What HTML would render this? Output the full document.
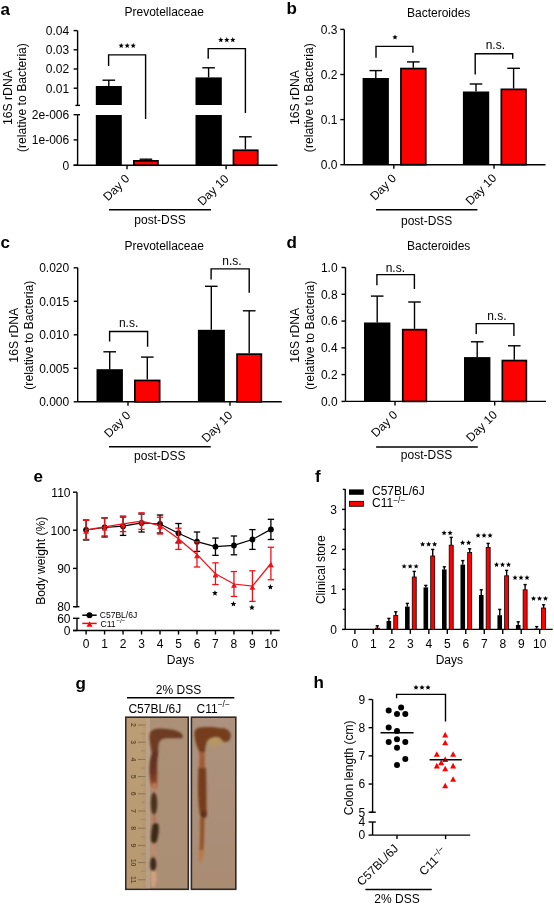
<!DOCTYPE html>
<html><head><meta charset="utf-8"><style>
html,body{margin:0;padding:0;background:#fff;}
svg{display:block;font-family:"Liberation Sans",sans-serif;will-change:transform;}
</style></head><body>
<svg width="554" height="906" viewBox="0 0 554 906">
<rect x="0" y="0" width="554" height="906" fill="#fff"/>
<text x="0.50" y="15.20" font-size="17" text-anchor="start" font-weight="bold" fill="#000">a</text>
<text x="164.20" y="16.40" font-size="12" text-anchor="middle" fill="#000">Prevotellaceae</text>
<line x1="77.60" y1="30.60" x2="77.60" y2="105.40" stroke="#000" stroke-width="1.4"/>
<line x1="75.40" y1="105.40" x2="80.00" y2="105.40" stroke="#000" stroke-width="1.4"/>
<line x1="73.60" y1="30.60" x2="77.60" y2="30.60" stroke="#000" stroke-width="1.4"/>
<text x="69.20" y="34.90" font-size="12" text-anchor="end" fill="#000">0.04</text>
<line x1="73.60" y1="49.80" x2="77.60" y2="49.80" stroke="#000" stroke-width="1.4"/>
<text x="69.20" y="54.10" font-size="12" text-anchor="end" fill="#000">0.03</text>
<line x1="73.60" y1="69.00" x2="77.60" y2="69.00" stroke="#000" stroke-width="1.4"/>
<text x="69.20" y="73.30" font-size="12" text-anchor="end" fill="#000">0.02</text>
<line x1="73.60" y1="88.20" x2="77.60" y2="88.20" stroke="#000" stroke-width="1.4"/>
<text x="69.20" y="92.50" font-size="12" text-anchor="end" fill="#000">0.01</text>
<line x1="77.60" y1="114.70" x2="77.60" y2="165.20" stroke="#000" stroke-width="1.4"/>
<line x1="77.60" y1="114.70" x2="80.00" y2="114.70" stroke="#000" stroke-width="1.4"/>
<line x1="73.60" y1="114.70" x2="77.60" y2="114.70" stroke="#000" stroke-width="1.4"/>
<text x="69.20" y="119.00" font-size="12" text-anchor="end" fill="#000">2e-006</text>
<line x1="73.60" y1="139.90" x2="77.60" y2="139.90" stroke="#000" stroke-width="1.4"/>
<text x="69.20" y="144.20" font-size="12" text-anchor="end" fill="#000">1e-006</text>
<line x1="73.60" y1="165.20" x2="77.60" y2="165.20" stroke="#000" stroke-width="1.4"/>
<text x="69.20" y="169.50" font-size="12" text-anchor="end" fill="#000">0</text>
<line x1="73.60" y1="165.20" x2="277.50" y2="165.20" stroke="#000" stroke-width="1.4"/>
<text x="11.60" y="97.60" font-size="12.2" text-anchor="middle" transform="rotate(-90 11.60 97.60)" fill="#000">16S rDNA</text>
<text x="25.80" y="97.60" font-size="12.2" text-anchor="middle" transform="rotate(-90 25.80 97.60)" fill="#000">(relative to Bacteria)</text>
<rect x="95.80" y="86.00" width="26.00" height="19.00" fill="#000"/>
<rect x="95.80" y="115.00" width="26.00" height="50.20" fill="#000"/>
<line x1="108.80" y1="80.20" x2="108.80" y2="86.00" stroke="#000" stroke-width="1.4"/>
<line x1="102.50" y1="80.20" x2="115.10" y2="80.20" stroke="#000" stroke-width="1.4"/>
<rect x="133.85" y="160.85" width="24.10" height="4.35" fill="#ff0000" stroke="#000" stroke-width="1.7"/>
<line x1="145.90" y1="159.20" x2="145.90" y2="160.50" stroke="#000" stroke-width="1.4"/>
<line x1="139.60" y1="159.20" x2="152.20" y2="159.20" stroke="#000" stroke-width="1.4"/>
<rect x="195.50" y="77.40" width="26.30" height="27.60" fill="#000"/>
<rect x="195.50" y="115.00" width="26.30" height="50.20" fill="#000"/>
<line x1="208.60" y1="67.80" x2="208.60" y2="77.40" stroke="#000" stroke-width="1.4"/>
<line x1="202.30" y1="67.80" x2="214.90" y2="67.80" stroke="#000" stroke-width="1.4"/>
<rect x="233.45" y="150.25" width="24.30" height="14.95" fill="#ff0000" stroke="#000" stroke-width="1.7"/>
<line x1="245.40" y1="136.80" x2="245.40" y2="149.40" stroke="#000" stroke-width="1.4"/>
<line x1="239.10" y1="136.80" x2="251.70" y2="136.80" stroke="#000" stroke-width="1.4"/>
<polyline points="108.60,65.90 108.60,54.90 145.60,54.90 145.60,118.90" fill="none" stroke="#000" stroke-width="1.4" stroke-linejoin="miter" stroke-linecap="butt"/>
<polygon points="121.20,42.90 121.94,44.68 123.86,44.83 122.40,46.09 122.85,47.97 121.20,46.96 119.55,47.97 120.00,46.09 118.54,44.83 120.46,44.68" fill="#000"/>
<polygon points="127.20,42.90 127.94,44.68 129.86,44.83 128.40,46.09 128.85,47.97 127.20,46.96 125.55,47.97 126.00,46.09 124.54,44.83 126.46,44.68" fill="#000"/>
<polygon points="133.20,42.90 133.94,44.68 135.86,44.83 134.40,46.09 134.85,47.97 133.20,46.96 131.55,47.97 132.00,46.09 130.54,44.83 132.46,44.68" fill="#000"/>
<polyline points="208.20,58.80 208.20,48.60 245.40,48.60 245.40,113.00" fill="none" stroke="#000" stroke-width="1.4" stroke-linejoin="miter" stroke-linecap="butt"/>
<polygon points="220.80,37.10 221.54,38.88 223.46,39.03 222.00,40.29 222.45,42.17 220.80,41.16 219.15,42.17 219.60,40.29 218.14,39.03 220.06,38.88" fill="#000"/>
<polygon points="226.80,37.10 227.54,38.88 229.46,39.03 228.00,40.29 228.45,42.17 226.80,41.16 225.15,42.17 225.60,40.29 224.14,39.03 226.06,38.88" fill="#000"/>
<polygon points="232.80,37.10 233.54,38.88 235.46,39.03 234.00,40.29 234.45,42.17 232.80,41.16 231.15,42.17 231.60,40.29 230.14,39.03 232.06,38.88" fill="#000"/>
<line x1="127.00" y1="165.20" x2="127.00" y2="169.20" stroke="#000" stroke-width="1.4"/>
<line x1="226.10" y1="165.20" x2="226.10" y2="169.20" stroke="#000" stroke-width="1.4"/>
<text x="130.30" y="179.40" font-size="12" text-anchor="end" transform="rotate(-45 130.30 179.40)" fill="#000">Day 0</text>
<text x="229.40" y="179.40" font-size="12" text-anchor="end" transform="rotate(-45 229.40 179.40)" fill="#000">Day 10</text>
<line x1="109.00" y1="209.80" x2="211.00" y2="209.80" stroke="#000" stroke-width="1.4"/>
<text x="160.00" y="224.20" font-size="12" text-anchor="middle" fill="#000">post-DSS</text>
<text x="286.60" y="14.40" font-size="17" text-anchor="start" font-weight="bold" fill="#000">b</text>
<text x="438.70" y="16.70" font-size="12" text-anchor="middle" fill="#000">Bacteroides</text>
<line x1="344.30" y1="29.40" x2="344.30" y2="164.70" stroke="#000" stroke-width="1.4"/>
<line x1="340.30" y1="29.40" x2="344.30" y2="29.40" stroke="#000" stroke-width="1.4"/>
<text x="337.50" y="33.70" font-size="12" text-anchor="end" fill="#000">0.3</text>
<line x1="340.30" y1="74.50" x2="344.30" y2="74.50" stroke="#000" stroke-width="1.4"/>
<text x="337.50" y="78.80" font-size="12" text-anchor="end" fill="#000">0.2</text>
<line x1="340.30" y1="119.60" x2="344.30" y2="119.60" stroke="#000" stroke-width="1.4"/>
<text x="337.50" y="123.90" font-size="12" text-anchor="end" fill="#000">0.1</text>
<line x1="340.30" y1="164.70" x2="344.30" y2="164.70" stroke="#000" stroke-width="1.4"/>
<text x="337.50" y="169.00" font-size="12" text-anchor="end" fill="#000">0.0</text>
<line x1="344.30" y1="164.70" x2="545.50" y2="164.70" stroke="#000" stroke-width="1.4"/>
<text x="298.90" y="97.60" font-size="12.2" text-anchor="middle" transform="rotate(-90 298.90 97.60)" fill="#000">16S rDNA</text>
<text x="313.40" y="97.60" font-size="12.2" text-anchor="middle" transform="rotate(-90 313.40 97.60)" fill="#000">(relative to Bacteria)</text>
<rect x="362.60" y="78.00" width="26.30" height="86.70" fill="#000"/>
<line x1="375.80" y1="70.60" x2="375.80" y2="78.00" stroke="#000" stroke-width="1.4"/>
<line x1="369.50" y1="70.60" x2="382.10" y2="70.60" stroke="#000" stroke-width="1.4"/>
<rect x="400.95" y="68.55" width="24.80" height="96.15" fill="#ff0000" stroke="#000" stroke-width="1.7"/>
<line x1="413.30" y1="61.90" x2="413.30" y2="67.70" stroke="#000" stroke-width="1.4"/>
<line x1="407.00" y1="61.90" x2="419.60" y2="61.90" stroke="#000" stroke-width="1.4"/>
<rect x="462.90" y="91.50" width="26.30" height="73.20" fill="#000"/>
<line x1="476.00" y1="84.00" x2="476.00" y2="91.50" stroke="#000" stroke-width="1.4"/>
<line x1="469.70" y1="84.00" x2="482.30" y2="84.00" stroke="#000" stroke-width="1.4"/>
<rect x="501.35" y="89.35" width="24.60" height="75.35" fill="#ff0000" stroke="#000" stroke-width="1.7"/>
<line x1="513.60" y1="68.30" x2="513.60" y2="88.50" stroke="#000" stroke-width="1.4"/>
<line x1="507.30" y1="68.30" x2="519.90" y2="68.30" stroke="#000" stroke-width="1.4"/>
<polyline points="376.00,57.70 376.00,46.40 412.90,46.40 412.90,52.80" fill="none" stroke="#000" stroke-width="1.4" stroke-linejoin="miter" stroke-linecap="butt"/>
<polygon points="395.00,34.50 395.74,36.28 397.66,36.43 396.20,37.69 396.65,39.57 395.00,38.56 393.35,39.57 393.80,37.69 392.34,36.43 394.26,36.28" fill="#000"/>
<polyline points="475.20,74.60 475.20,53.80 512.70,53.80 512.70,58.70" fill="none" stroke="#000" stroke-width="1.4" stroke-linejoin="miter" stroke-linecap="butt"/>
<text x="495.30" y="48.80" font-size="12" text-anchor="middle" fill="#000">n.s.</text>
<line x1="393.80" y1="164.70" x2="393.80" y2="168.70" stroke="#000" stroke-width="1.4"/>
<line x1="494.00" y1="164.70" x2="494.00" y2="168.70" stroke="#000" stroke-width="1.4"/>
<text x="397.10" y="178.90" font-size="12" text-anchor="end" transform="rotate(-45 397.10 178.90)" fill="#000">Day 0</text>
<text x="497.30" y="178.90" font-size="12" text-anchor="end" transform="rotate(-45 497.30 178.90)" fill="#000">Day 10</text>
<line x1="376.00" y1="209.80" x2="477.40" y2="209.80" stroke="#000" stroke-width="1.4"/>
<text x="426.70" y="224.60" font-size="12" text-anchor="middle" fill="#000">post-DSS</text>
<text x="0.50" y="248.20" font-size="17" text-anchor="start" font-weight="bold" fill="#000">c</text>
<text x="164.20" y="249.90" font-size="12" text-anchor="middle" fill="#000">Prevotellaceae</text>
<line x1="77.70" y1="267.80" x2="77.70" y2="401.80" stroke="#000" stroke-width="1.4"/>
<line x1="73.70" y1="267.80" x2="77.70" y2="267.80" stroke="#000" stroke-width="1.4"/>
<text x="69.20" y="272.10" font-size="12" text-anchor="end" fill="#000">0.020</text>
<line x1="73.70" y1="301.30" x2="77.70" y2="301.30" stroke="#000" stroke-width="1.4"/>
<text x="69.20" y="305.60" font-size="12" text-anchor="end" fill="#000">0.015</text>
<line x1="73.70" y1="334.80" x2="77.70" y2="334.80" stroke="#000" stroke-width="1.4"/>
<text x="69.20" y="339.10" font-size="12" text-anchor="end" fill="#000">0.010</text>
<line x1="73.70" y1="368.30" x2="77.70" y2="368.30" stroke="#000" stroke-width="1.4"/>
<text x="69.20" y="372.60" font-size="12" text-anchor="end" fill="#000">0.005</text>
<line x1="73.70" y1="401.80" x2="77.70" y2="401.80" stroke="#000" stroke-width="1.4"/>
<text x="69.20" y="406.10" font-size="12" text-anchor="end" fill="#000">0.000</text>
<line x1="77.70" y1="401.80" x2="281.80" y2="401.80" stroke="#000" stroke-width="1.4"/>
<text x="18.20" y="335.20" font-size="12.2" text-anchor="middle" transform="rotate(-90 18.20 335.20)" fill="#000">16S rDNA</text>
<text x="32.70" y="335.20" font-size="12.2" text-anchor="middle" transform="rotate(-90 32.70 335.20)" fill="#000">(relative to Bacteria)</text>
<rect x="96.50" y="369.20" width="26.40" height="32.60" fill="#000"/>
<line x1="109.70" y1="351.80" x2="109.70" y2="369.20" stroke="#000" stroke-width="1.4"/>
<line x1="103.40" y1="351.80" x2="116.00" y2="351.80" stroke="#000" stroke-width="1.4"/>
<rect x="134.85" y="380.45" width="24.80" height="21.35" fill="#ff0000" stroke="#000" stroke-width="1.7"/>
<line x1="147.30" y1="357.10" x2="147.30" y2="379.60" stroke="#000" stroke-width="1.4"/>
<line x1="141.00" y1="357.10" x2="153.60" y2="357.10" stroke="#000" stroke-width="1.4"/>
<rect x="197.90" y="329.80" width="27.00" height="72.00" fill="#000"/>
<line x1="211.30" y1="286.30" x2="211.30" y2="329.80" stroke="#000" stroke-width="1.4"/>
<line x1="205.00" y1="286.30" x2="217.60" y2="286.30" stroke="#000" stroke-width="1.4"/>
<rect x="237.05" y="354.15" width="24.30" height="47.65" fill="#ff0000" stroke="#000" stroke-width="1.7"/>
<line x1="249.20" y1="310.80" x2="249.20" y2="353.30" stroke="#000" stroke-width="1.4"/>
<line x1="242.90" y1="310.80" x2="255.50" y2="310.80" stroke="#000" stroke-width="1.4"/>
<polyline points="109.60,341.40 109.60,331.50 147.60,331.50 147.60,346.80" fill="none" stroke="#000" stroke-width="1.4" stroke-linejoin="miter" stroke-linecap="butt"/>
<text x="128.60" y="327.00" font-size="12" text-anchor="middle" fill="#000">n.s.</text>
<polyline points="211.10,279.40 211.10,268.90 249.20,268.90 249.20,292.70" fill="none" stroke="#000" stroke-width="1.4" stroke-linejoin="miter" stroke-linecap="butt"/>
<text x="232.00" y="264.90" font-size="12" text-anchor="middle" fill="#000">n.s.</text>
<line x1="128.00" y1="401.80" x2="128.00" y2="405.80" stroke="#000" stroke-width="1.4"/>
<line x1="230.00" y1="401.80" x2="230.00" y2="405.80" stroke="#000" stroke-width="1.4"/>
<text x="131.30" y="416.00" font-size="12" text-anchor="end" transform="rotate(-45 131.30 416.00)" fill="#000">Day 0</text>
<text x="233.30" y="416.00" font-size="12" text-anchor="end" transform="rotate(-45 233.30 416.00)" fill="#000">Day 10</text>
<line x1="109.00" y1="446.80" x2="210.70" y2="446.80" stroke="#000" stroke-width="1.4"/>
<text x="159.80" y="459.60" font-size="12" text-anchor="middle" fill="#000">post-DSS</text>
<text x="286.60" y="248.00" font-size="17" text-anchor="start" font-weight="bold" fill="#000">d</text>
<text x="438.70" y="249.90" font-size="12" text-anchor="middle" fill="#000">Bacteroides</text>
<line x1="345.50" y1="267.50" x2="345.50" y2="401.40" stroke="#000" stroke-width="1.4"/>
<line x1="341.50" y1="267.50" x2="345.50" y2="267.50" stroke="#000" stroke-width="1.4"/>
<text x="337.60" y="271.80" font-size="12" text-anchor="end" fill="#000">1.0</text>
<line x1="341.50" y1="294.28" x2="345.50" y2="294.28" stroke="#000" stroke-width="1.4"/>
<text x="337.60" y="298.58" font-size="12" text-anchor="end" fill="#000">0.8</text>
<line x1="341.50" y1="321.06" x2="345.50" y2="321.06" stroke="#000" stroke-width="1.4"/>
<text x="337.60" y="325.36" font-size="12" text-anchor="end" fill="#000">0.6</text>
<line x1="341.50" y1="347.84" x2="345.50" y2="347.84" stroke="#000" stroke-width="1.4"/>
<text x="337.60" y="352.14" font-size="12" text-anchor="end" fill="#000">0.4</text>
<line x1="341.50" y1="374.62" x2="345.50" y2="374.62" stroke="#000" stroke-width="1.4"/>
<text x="337.60" y="378.92" font-size="12" text-anchor="end" fill="#000">0.2</text>
<line x1="341.50" y1="401.40" x2="345.50" y2="401.40" stroke="#000" stroke-width="1.4"/>
<text x="337.60" y="405.70" font-size="12" text-anchor="end" fill="#000">0.0</text>
<line x1="345.50" y1="401.40" x2="546.00" y2="401.40" stroke="#000" stroke-width="1.4"/>
<text x="299.10" y="335.20" font-size="12.2" text-anchor="middle" transform="rotate(-90 299.10 335.20)" fill="#000">16S rDNA</text>
<text x="314.20" y="335.20" font-size="12.2" text-anchor="middle" transform="rotate(-90 314.20 335.20)" fill="#000">(relative to Bacteria)</text>
<rect x="364.00" y="322.50" width="26.40" height="78.90" fill="#000"/>
<line x1="377.20" y1="296.10" x2="377.20" y2="322.50" stroke="#000" stroke-width="1.4"/>
<line x1="370.90" y1="296.10" x2="383.50" y2="296.10" stroke="#000" stroke-width="1.4"/>
<rect x="402.75" y="329.65" width="23.60" height="71.75" fill="#ff0000" stroke="#000" stroke-width="1.7"/>
<line x1="414.50" y1="302.00" x2="414.50" y2="328.80" stroke="#000" stroke-width="1.4"/>
<line x1="408.20" y1="302.00" x2="420.80" y2="302.00" stroke="#000" stroke-width="1.4"/>
<rect x="464.00" y="357.10" width="26.40" height="44.30" fill="#000"/>
<line x1="477.20" y1="341.80" x2="477.20" y2="357.10" stroke="#000" stroke-width="1.4"/>
<line x1="470.90" y1="341.80" x2="483.50" y2="341.80" stroke="#000" stroke-width="1.4"/>
<rect x="502.35" y="360.55" width="24.00" height="40.85" fill="#ff0000" stroke="#000" stroke-width="1.7"/>
<line x1="514.30" y1="345.80" x2="514.30" y2="359.70" stroke="#000" stroke-width="1.4"/>
<line x1="508.00" y1="345.80" x2="520.60" y2="345.80" stroke="#000" stroke-width="1.4"/>
<polyline points="376.90,285.30 376.90,274.60 414.40,274.60 414.40,289.10" fill="none" stroke="#000" stroke-width="1.4" stroke-linejoin="miter" stroke-linecap="butt"/>
<text x="395.30" y="271.80" font-size="12" text-anchor="middle" fill="#000">n.s.</text>
<polyline points="476.20,333.90 476.20,323.60 513.90,323.60 513.90,335.90" fill="none" stroke="#000" stroke-width="1.4" stroke-linejoin="miter" stroke-linecap="butt"/>
<text x="496.80" y="319.90" font-size="12" text-anchor="middle" fill="#000">n.s.</text>
<line x1="395.00" y1="401.40" x2="395.00" y2="405.40" stroke="#000" stroke-width="1.4"/>
<line x1="494.70" y1="401.40" x2="494.70" y2="405.40" stroke="#000" stroke-width="1.4"/>
<text x="398.30" y="415.60" font-size="12" text-anchor="end" transform="rotate(-45 398.30 415.60)" fill="#000">Day 0</text>
<text x="498.00" y="415.60" font-size="12" text-anchor="end" transform="rotate(-45 498.00 415.60)" fill="#000">Day 10</text>
<line x1="376.10" y1="447.00" x2="477.80" y2="447.00" stroke="#000" stroke-width="1.4"/>
<text x="426.50" y="459.40" font-size="12" text-anchor="middle" fill="#000">post-DSS</text>
<text x="33.50" y="481.80" font-size="17" text-anchor="start" font-weight="bold" fill="#000">e</text>
<line x1="77.00" y1="492.20" x2="77.00" y2="606.70" stroke="#000" stroke-width="1.4"/>
<line x1="74.80" y1="606.70" x2="79.40" y2="606.70" stroke="#000" stroke-width="1.4"/>
<line x1="73.00" y1="492.20" x2="77.00" y2="492.20" stroke="#000" stroke-width="1.4"/>
<text x="70.50" y="496.50" font-size="12" text-anchor="end" fill="#000">110</text>
<line x1="73.00" y1="530.20" x2="77.00" y2="530.20" stroke="#000" stroke-width="1.4"/>
<text x="70.50" y="534.50" font-size="12" text-anchor="end" fill="#000">100</text>
<line x1="73.00" y1="568.40" x2="77.00" y2="568.40" stroke="#000" stroke-width="1.4"/>
<text x="70.50" y="572.70" font-size="12" text-anchor="end" fill="#000">90</text>
<line x1="73.00" y1="606.70" x2="77.00" y2="606.70" stroke="#000" stroke-width="1.4"/>
<text x="70.50" y="611.00" font-size="12" text-anchor="end" fill="#000">80</text>
<line x1="77.00" y1="618.30" x2="77.00" y2="630.50" stroke="#000" stroke-width="1.4"/>
<line x1="77.00" y1="618.30" x2="79.40" y2="618.30" stroke="#000" stroke-width="1.4"/>
<line x1="73.00" y1="618.30" x2="77.00" y2="618.30" stroke="#000" stroke-width="1.4"/>
<text x="70.50" y="622.60" font-size="12" text-anchor="end" fill="#000">60</text>
<line x1="73.00" y1="630.50" x2="77.00" y2="630.50" stroke="#000" stroke-width="1.4"/>
<text x="70.50" y="634.80" font-size="12" text-anchor="end" fill="#000">0</text>
<line x1="73.00" y1="630.50" x2="279.70" y2="630.50" stroke="#000" stroke-width="1.4"/>
<text x="44.80" y="560.80" font-size="12.1" text-anchor="middle" transform="rotate(-90 44.80 560.80)" fill="#000">Body weight (%)</text>
<line x1="86.10" y1="630.50" x2="86.10" y2="634.50" stroke="#000" stroke-width="1.4"/>
<text x="86.10" y="648.20" font-size="12" text-anchor="middle" fill="#000">0</text>
<line x1="104.58" y1="630.50" x2="104.58" y2="634.50" stroke="#000" stroke-width="1.4"/>
<text x="104.58" y="648.20" font-size="12" text-anchor="middle" fill="#000">1</text>
<line x1="123.06" y1="630.50" x2="123.06" y2="634.50" stroke="#000" stroke-width="1.4"/>
<text x="123.06" y="648.20" font-size="12" text-anchor="middle" fill="#000">2</text>
<line x1="141.54" y1="630.50" x2="141.54" y2="634.50" stroke="#000" stroke-width="1.4"/>
<text x="141.54" y="648.20" font-size="12" text-anchor="middle" fill="#000">3</text>
<line x1="160.02" y1="630.50" x2="160.02" y2="634.50" stroke="#000" stroke-width="1.4"/>
<text x="160.02" y="648.20" font-size="12" text-anchor="middle" fill="#000">4</text>
<line x1="178.50" y1="630.50" x2="178.50" y2="634.50" stroke="#000" stroke-width="1.4"/>
<text x="178.50" y="648.20" font-size="12" text-anchor="middle" fill="#000">5</text>
<line x1="196.98" y1="630.50" x2="196.98" y2="634.50" stroke="#000" stroke-width="1.4"/>
<text x="196.98" y="648.20" font-size="12" text-anchor="middle" fill="#000">6</text>
<line x1="215.46" y1="630.50" x2="215.46" y2="634.50" stroke="#000" stroke-width="1.4"/>
<text x="215.46" y="648.20" font-size="12" text-anchor="middle" fill="#000">7</text>
<line x1="233.94" y1="630.50" x2="233.94" y2="634.50" stroke="#000" stroke-width="1.4"/>
<text x="233.94" y="648.20" font-size="12" text-anchor="middle" fill="#000">8</text>
<line x1="252.42" y1="630.50" x2="252.42" y2="634.50" stroke="#000" stroke-width="1.4"/>
<text x="252.42" y="648.20" font-size="12" text-anchor="middle" fill="#000">9</text>
<line x1="270.90" y1="630.50" x2="270.90" y2="634.50" stroke="#000" stroke-width="1.4"/>
<text x="270.90" y="648.20" font-size="12" text-anchor="middle" fill="#000">10</text>
<text x="180.50" y="663.50" font-size="12" text-anchor="middle" fill="#000">Days</text>
<line x1="86.10" y1="520.00" x2="86.10" y2="540.00" stroke="#000" stroke-width="1.3"/>
<line x1="82.90" y1="520.00" x2="89.30" y2="520.00" stroke="#000" stroke-width="1.3"/>
<line x1="82.90" y1="540.00" x2="89.30" y2="540.00" stroke="#000" stroke-width="1.3"/>
<line x1="104.58" y1="518.00" x2="104.58" y2="537.00" stroke="#000" stroke-width="1.3"/>
<line x1="101.38" y1="518.00" x2="107.78" y2="518.00" stroke="#000" stroke-width="1.3"/>
<line x1="101.38" y1="537.00" x2="107.78" y2="537.00" stroke="#000" stroke-width="1.3"/>
<line x1="123.06" y1="517.00" x2="123.06" y2="535.40" stroke="#000" stroke-width="1.3"/>
<line x1="119.86" y1="517.00" x2="126.26" y2="517.00" stroke="#000" stroke-width="1.3"/>
<line x1="119.86" y1="535.40" x2="126.26" y2="535.40" stroke="#000" stroke-width="1.3"/>
<line x1="141.54" y1="514.00" x2="141.54" y2="532.00" stroke="#000" stroke-width="1.3"/>
<line x1="138.34" y1="514.00" x2="144.74" y2="514.00" stroke="#000" stroke-width="1.3"/>
<line x1="138.34" y1="532.00" x2="144.74" y2="532.00" stroke="#000" stroke-width="1.3"/>
<line x1="160.02" y1="515.00" x2="160.02" y2="533.00" stroke="#000" stroke-width="1.3"/>
<line x1="156.82" y1="515.00" x2="163.22" y2="515.00" stroke="#000" stroke-width="1.3"/>
<line x1="156.82" y1="533.00" x2="163.22" y2="533.00" stroke="#000" stroke-width="1.3"/>
<line x1="178.50" y1="523.50" x2="178.50" y2="542.90" stroke="#000" stroke-width="1.3"/>
<line x1="175.30" y1="523.50" x2="181.70" y2="523.50" stroke="#000" stroke-width="1.3"/>
<line x1="175.30" y1="542.90" x2="181.70" y2="542.90" stroke="#000" stroke-width="1.3"/>
<line x1="196.98" y1="532.00" x2="196.98" y2="551.40" stroke="#000" stroke-width="1.3"/>
<line x1="193.78" y1="532.00" x2="200.18" y2="532.00" stroke="#000" stroke-width="1.3"/>
<line x1="193.78" y1="551.40" x2="200.18" y2="551.40" stroke="#000" stroke-width="1.3"/>
<line x1="215.46" y1="538.05" x2="215.46" y2="555.35" stroke="#000" stroke-width="1.3"/>
<line x1="212.26" y1="538.05" x2="218.66" y2="538.05" stroke="#000" stroke-width="1.3"/>
<line x1="212.26" y1="555.35" x2="218.66" y2="555.35" stroke="#000" stroke-width="1.3"/>
<line x1="233.94" y1="536.00" x2="233.94" y2="554.80" stroke="#000" stroke-width="1.3"/>
<line x1="230.74" y1="536.00" x2="237.14" y2="536.00" stroke="#000" stroke-width="1.3"/>
<line x1="230.74" y1="554.80" x2="237.14" y2="554.80" stroke="#000" stroke-width="1.3"/>
<line x1="252.42" y1="529.60" x2="252.42" y2="549.40" stroke="#000" stroke-width="1.3"/>
<line x1="249.22" y1="529.60" x2="255.62" y2="529.60" stroke="#000" stroke-width="1.3"/>
<line x1="249.22" y1="549.40" x2="255.62" y2="549.40" stroke="#000" stroke-width="1.3"/>
<line x1="270.90" y1="519.30" x2="270.90" y2="539.50" stroke="#000" stroke-width="1.3"/>
<line x1="267.70" y1="519.30" x2="274.10" y2="519.30" stroke="#000" stroke-width="1.3"/>
<line x1="267.70" y1="539.50" x2="274.10" y2="539.50" stroke="#000" stroke-width="1.3"/>
<polyline points="86.10,530.00 104.58,527.50 123.06,526.20 141.54,523.00 160.02,524.00 178.50,533.20 196.98,541.70 215.46,546.70 233.94,545.40 252.42,539.50 270.90,529.40" fill="none" stroke="#000" stroke-width="1.25" stroke-linejoin="miter" stroke-linecap="butt"/>
<circle cx="86.10" cy="530.00" r="2.9" fill="#000"/>
<circle cx="104.58" cy="527.50" r="2.9" fill="#000"/>
<circle cx="123.06" cy="526.20" r="2.9" fill="#000"/>
<circle cx="141.54" cy="523.00" r="2.9" fill="#000"/>
<circle cx="160.02" cy="524.00" r="2.9" fill="#000"/>
<circle cx="178.50" cy="533.20" r="2.9" fill="#000"/>
<circle cx="196.98" cy="541.70" r="2.9" fill="#000"/>
<circle cx="215.46" cy="546.70" r="2.9" fill="#000"/>
<circle cx="233.94" cy="545.40" r="2.9" fill="#000"/>
<circle cx="252.42" cy="539.50" r="2.9" fill="#000"/>
<circle cx="270.90" cy="529.40" r="2.9" fill="#000"/>
<line x1="86.10" y1="520.40" x2="86.10" y2="539.40" stroke="#f01018" stroke-width="1.3"/>
<line x1="82.90" y1="520.40" x2="89.30" y2="520.40" stroke="#f01018" stroke-width="1.3"/>
<line x1="82.90" y1="539.40" x2="89.30" y2="539.40" stroke="#f01018" stroke-width="1.3"/>
<line x1="104.58" y1="517.70" x2="104.58" y2="535.90" stroke="#f01018" stroke-width="1.3"/>
<line x1="101.38" y1="517.70" x2="107.78" y2="517.70" stroke="#f01018" stroke-width="1.3"/>
<line x1="101.38" y1="535.90" x2="107.78" y2="535.90" stroke="#f01018" stroke-width="1.3"/>
<line x1="123.06" y1="516.00" x2="123.06" y2="531.60" stroke="#f01018" stroke-width="1.3"/>
<line x1="119.86" y1="516.00" x2="126.26" y2="516.00" stroke="#f01018" stroke-width="1.3"/>
<line x1="119.86" y1="531.60" x2="126.26" y2="531.60" stroke="#f01018" stroke-width="1.3"/>
<line x1="141.54" y1="512.80" x2="141.54" y2="529.40" stroke="#f01018" stroke-width="1.3"/>
<line x1="138.34" y1="512.80" x2="144.74" y2="512.80" stroke="#f01018" stroke-width="1.3"/>
<line x1="138.34" y1="529.40" x2="144.74" y2="529.40" stroke="#f01018" stroke-width="1.3"/>
<line x1="160.02" y1="517.20" x2="160.02" y2="534.00" stroke="#f01018" stroke-width="1.3"/>
<line x1="156.82" y1="517.20" x2="163.22" y2="517.20" stroke="#f01018" stroke-width="1.3"/>
<line x1="156.82" y1="534.00" x2="163.22" y2="534.00" stroke="#f01018" stroke-width="1.3"/>
<line x1="178.50" y1="528.20" x2="178.50" y2="549.40" stroke="#f01018" stroke-width="1.3"/>
<line x1="175.30" y1="528.20" x2="181.70" y2="528.20" stroke="#f01018" stroke-width="1.3"/>
<line x1="175.30" y1="549.40" x2="181.70" y2="549.40" stroke="#f01018" stroke-width="1.3"/>
<line x1="196.98" y1="541.80" x2="196.98" y2="567.00" stroke="#f01018" stroke-width="1.3"/>
<line x1="193.78" y1="541.80" x2="200.18" y2="541.80" stroke="#f01018" stroke-width="1.3"/>
<line x1="193.78" y1="567.00" x2="200.18" y2="567.00" stroke="#f01018" stroke-width="1.3"/>
<line x1="215.46" y1="562.85" x2="215.46" y2="584.55" stroke="#f01018" stroke-width="1.3"/>
<line x1="212.26" y1="562.85" x2="218.66" y2="562.85" stroke="#f01018" stroke-width="1.3"/>
<line x1="212.26" y1="584.55" x2="218.66" y2="584.55" stroke="#f01018" stroke-width="1.3"/>
<line x1="233.94" y1="571.55" x2="233.94" y2="596.45" stroke="#f01018" stroke-width="1.3"/>
<line x1="230.74" y1="571.55" x2="237.14" y2="571.55" stroke="#f01018" stroke-width="1.3"/>
<line x1="230.74" y1="596.45" x2="237.14" y2="596.45" stroke="#f01018" stroke-width="1.3"/>
<line x1="252.42" y1="570.80" x2="252.42" y2="601.40" stroke="#f01018" stroke-width="1.3"/>
<line x1="249.22" y1="570.80" x2="255.62" y2="570.80" stroke="#f01018" stroke-width="1.3"/>
<line x1="249.22" y1="601.40" x2="255.62" y2="601.40" stroke="#f01018" stroke-width="1.3"/>
<line x1="270.90" y1="547.25" x2="270.90" y2="579.75" stroke="#f01018" stroke-width="1.3"/>
<line x1="267.70" y1="547.25" x2="274.10" y2="547.25" stroke="#f01018" stroke-width="1.3"/>
<line x1="267.70" y1="579.75" x2="274.10" y2="579.75" stroke="#f01018" stroke-width="1.3"/>
<polyline points="86.10,529.90 104.58,526.80 123.06,523.80 141.54,521.10 160.02,525.60 178.50,538.80 196.98,554.40 215.46,573.70 233.94,584.00 252.42,586.10 270.90,563.50" fill="none" stroke="#f01018" stroke-width="1.25" stroke-linejoin="miter" stroke-linecap="butt"/>
<polygon points="86.10,528.14 89.00,533.65 83.20,533.65" fill="#f01018"/>
<polygon points="104.58,525.04 107.48,530.55 101.68,530.55" fill="#f01018"/>
<polygon points="123.06,522.04 125.96,527.55 120.16,527.55" fill="#f01018"/>
<polygon points="141.54,519.35 144.44,524.86 138.64,524.86" fill="#f01018"/>
<polygon points="160.02,523.85 162.92,529.36 157.12,529.36" fill="#f01018"/>
<polygon points="178.50,537.04 181.40,542.55 175.60,542.55" fill="#f01018"/>
<polygon points="196.98,552.64 199.88,558.15 194.08,558.15" fill="#f01018"/>
<polygon points="215.46,571.95 218.36,577.46 212.56,577.46" fill="#f01018"/>
<polygon points="233.94,582.25 236.84,587.75 231.04,587.75" fill="#f01018"/>
<polygon points="252.42,584.35 255.32,589.86 249.52,589.86" fill="#f01018"/>
<polygon points="270.90,561.75 273.80,567.25 268.00,567.25" fill="#f01018"/>
<polygon points="214.96,590.20 215.75,592.11 217.81,592.27 216.24,593.62 216.72,595.63 214.96,594.55 213.20,595.63 213.68,593.62 212.11,592.27 214.17,592.11" fill="#000"/>
<polygon points="233.44,601.00 234.23,602.91 236.29,603.07 234.72,604.42 235.20,606.43 233.44,605.35 231.68,606.43 232.16,604.42 230.59,603.07 232.65,602.91" fill="#000"/>
<polygon points="251.92,604.60 252.71,606.51 254.77,606.67 253.20,608.02 253.68,610.03 251.92,608.95 250.16,610.03 250.64,608.02 249.07,606.67 251.13,606.51" fill="#000"/>
<polygon points="270.40,584.10 271.19,586.01 273.25,586.17 271.68,587.52 272.16,589.53 270.40,588.45 268.64,589.53 269.12,587.52 267.55,586.17 269.61,586.01" fill="#000"/>
<line x1="82.30" y1="615.20" x2="96.70" y2="615.20" stroke="#000" stroke-width="1.5"/>
<circle cx="89.50" cy="615.20" r="3.0" fill="#000"/>
<text x="99.80" y="618.30" font-size="8.5" text-anchor="start" fill="#000">C57BL/6J</text>
<line x1="82.30" y1="623.40" x2="96.70" y2="623.40" stroke="#ff0000" stroke-width="1.5"/>
<polygon points="89.50,621.15 92.50,626.85 86.50,626.85" fill="#ff0000"/>
<text x="100.40" y="627.40" font-size="8.7" text-anchor="start" fill="#000">C11<tspan font-size="6.2" dx="0.8" dy="-4.6">−/−</tspan></text>
<text x="315.00" y="481.80" font-size="17" text-anchor="start" font-weight="bold" fill="#000">f</text>
<line x1="345.20" y1="488.90" x2="345.20" y2="629.40" stroke="#000" stroke-width="1.4"/>
<line x1="342.00" y1="629.40" x2="345.20" y2="629.40" stroke="#000" stroke-width="1.4"/>
<text x="337.00" y="633.70" font-size="12" text-anchor="end" fill="#000">0</text>
<line x1="342.00" y1="589.40" x2="345.20" y2="589.40" stroke="#000" stroke-width="1.4"/>
<text x="337.00" y="593.70" font-size="12" text-anchor="end" fill="#000">1</text>
<line x1="342.00" y1="549.40" x2="345.20" y2="549.40" stroke="#000" stroke-width="1.4"/>
<text x="337.00" y="553.70" font-size="12" text-anchor="end" fill="#000">2</text>
<line x1="342.00" y1="509.40" x2="345.20" y2="509.40" stroke="#000" stroke-width="1.4"/>
<text x="337.00" y="513.70" font-size="12" text-anchor="end" fill="#000">3</text>
<line x1="342.80" y1="609.40" x2="345.20" y2="609.40" stroke="#000" stroke-width="1.4"/>
<line x1="342.80" y1="569.40" x2="345.20" y2="569.40" stroke="#000" stroke-width="1.4"/>
<line x1="342.80" y1="529.40" x2="345.20" y2="529.40" stroke="#000" stroke-width="1.4"/>
<line x1="342.80" y1="489.40" x2="345.20" y2="489.40" stroke="#000" stroke-width="1.4"/>
<line x1="345.20" y1="629.40" x2="552.70" y2="629.40" stroke="#000" stroke-width="1.4"/>
<text x="325.50" y="569.70" font-size="12" text-anchor="middle" transform="rotate(-90 325.50 569.70)" fill="#000">Clinical store</text>
<line x1="354.90" y1="629.40" x2="354.90" y2="633.90" stroke="#000" stroke-width="1.4"/>
<text x="354.90" y="647.50" font-size="12" text-anchor="middle" fill="#000">0</text>
<line x1="377.28" y1="625.80" x2="377.28" y2="628.20" stroke="#000" stroke-width="1.4"/>
<line x1="375.68" y1="625.80" x2="378.88" y2="625.80" stroke="#000" stroke-width="1.4"/>
<rect x="375.28" y="628.20" width="4.00" height="1.20" fill="#ff0000" stroke="#000" stroke-width="0.8"/>
<line x1="373.38" y1="629.40" x2="373.38" y2="633.90" stroke="#000" stroke-width="1.4"/>
<text x="373.38" y="647.50" font-size="12" text-anchor="middle" fill="#000">1</text>
<line x1="388.86" y1="618.40" x2="388.86" y2="621.00" stroke="#000" stroke-width="1.4"/>
<line x1="387.26" y1="618.40" x2="390.46" y2="618.40" stroke="#000" stroke-width="1.4"/>
<rect x="386.56" y="621.00" width="4.60" height="8.40" fill="#000"/>
<line x1="395.76" y1="611.80" x2="395.76" y2="615.60" stroke="#000" stroke-width="1.4"/>
<line x1="394.16" y1="611.80" x2="397.36" y2="611.80" stroke="#000" stroke-width="1.4"/>
<rect x="393.76" y="615.60" width="4.00" height="13.80" fill="#ff0000" stroke="#000" stroke-width="0.8"/>
<line x1="391.86" y1="629.40" x2="391.86" y2="633.90" stroke="#000" stroke-width="1.4"/>
<text x="391.86" y="647.50" font-size="12" text-anchor="middle" fill="#000">2</text>
<line x1="407.34" y1="603.40" x2="407.34" y2="606.60" stroke="#000" stroke-width="1.4"/>
<line x1="405.74" y1="603.40" x2="408.94" y2="603.40" stroke="#000" stroke-width="1.4"/>
<rect x="405.04" y="606.60" width="4.60" height="22.80" fill="#000"/>
<line x1="414.24" y1="571.40" x2="414.24" y2="577.00" stroke="#000" stroke-width="1.4"/>
<line x1="412.64" y1="571.40" x2="415.84" y2="571.40" stroke="#000" stroke-width="1.4"/>
<rect x="412.24" y="577.00" width="4.00" height="52.40" fill="#ff0000" stroke="#000" stroke-width="0.8"/>
<line x1="410.34" y1="629.40" x2="410.34" y2="633.90" stroke="#000" stroke-width="1.4"/>
<text x="410.34" y="647.50" font-size="12" text-anchor="middle" fill="#000">3</text>
<line x1="425.82" y1="585.40" x2="425.82" y2="587.40" stroke="#000" stroke-width="1.4"/>
<line x1="424.22" y1="585.40" x2="427.42" y2="585.40" stroke="#000" stroke-width="1.4"/>
<rect x="423.52" y="587.40" width="4.60" height="42.00" fill="#000"/>
<line x1="432.72" y1="549.40" x2="432.72" y2="556.00" stroke="#000" stroke-width="1.4"/>
<line x1="431.12" y1="549.40" x2="434.32" y2="549.40" stroke="#000" stroke-width="1.4"/>
<rect x="430.72" y="556.00" width="4.00" height="73.40" fill="#ff0000" stroke="#000" stroke-width="0.8"/>
<line x1="428.82" y1="629.40" x2="428.82" y2="633.90" stroke="#000" stroke-width="1.4"/>
<text x="428.82" y="647.50" font-size="12" text-anchor="middle" fill="#000">4</text>
<line x1="444.30" y1="566.80" x2="444.30" y2="569.40" stroke="#000" stroke-width="1.4"/>
<line x1="442.70" y1="566.80" x2="445.90" y2="566.80" stroke="#000" stroke-width="1.4"/>
<rect x="442.00" y="569.40" width="4.60" height="60.00" fill="#000"/>
<line x1="451.20" y1="537.40" x2="451.20" y2="545.20" stroke="#000" stroke-width="1.4"/>
<line x1="449.60" y1="537.40" x2="452.80" y2="537.40" stroke="#000" stroke-width="1.4"/>
<rect x="449.20" y="545.20" width="4.00" height="84.20" fill="#ff0000" stroke="#000" stroke-width="0.8"/>
<line x1="447.30" y1="629.40" x2="447.30" y2="633.90" stroke="#000" stroke-width="1.4"/>
<text x="447.30" y="647.50" font-size="12" text-anchor="middle" fill="#000">5</text>
<line x1="462.78" y1="560.60" x2="462.78" y2="564.60" stroke="#000" stroke-width="1.4"/>
<line x1="461.18" y1="560.60" x2="464.38" y2="560.60" stroke="#000" stroke-width="1.4"/>
<rect x="460.48" y="564.60" width="4.60" height="64.80" fill="#000"/>
<line x1="469.68" y1="548.80" x2="469.68" y2="552.60" stroke="#000" stroke-width="1.4"/>
<line x1="468.08" y1="548.80" x2="471.28" y2="548.80" stroke="#000" stroke-width="1.4"/>
<rect x="467.68" y="552.60" width="4.00" height="76.80" fill="#ff0000" stroke="#000" stroke-width="0.8"/>
<line x1="465.78" y1="629.40" x2="465.78" y2="633.90" stroke="#000" stroke-width="1.4"/>
<text x="465.78" y="647.50" font-size="12" text-anchor="middle" fill="#000">6</text>
<line x1="481.26" y1="589.80" x2="481.26" y2="595.00" stroke="#000" stroke-width="1.4"/>
<line x1="479.66" y1="589.80" x2="482.86" y2="589.80" stroke="#000" stroke-width="1.4"/>
<rect x="478.96" y="595.00" width="4.60" height="34.40" fill="#000"/>
<line x1="488.16" y1="543.40" x2="488.16" y2="547.40" stroke="#000" stroke-width="1.4"/>
<line x1="486.56" y1="543.40" x2="489.76" y2="543.40" stroke="#000" stroke-width="1.4"/>
<rect x="486.16" y="547.40" width="4.00" height="82.00" fill="#ff0000" stroke="#000" stroke-width="0.8"/>
<line x1="484.26" y1="629.40" x2="484.26" y2="633.90" stroke="#000" stroke-width="1.4"/>
<text x="484.26" y="647.50" font-size="12" text-anchor="middle" fill="#000">7</text>
<line x1="499.74" y1="609.40" x2="499.74" y2="615.20" stroke="#000" stroke-width="1.4"/>
<line x1="498.14" y1="609.40" x2="501.34" y2="609.40" stroke="#000" stroke-width="1.4"/>
<rect x="497.44" y="615.20" width="4.60" height="14.20" fill="#000"/>
<line x1="506.64" y1="570.40" x2="506.64" y2="575.80" stroke="#000" stroke-width="1.4"/>
<line x1="505.04" y1="570.40" x2="508.24" y2="570.40" stroke="#000" stroke-width="1.4"/>
<rect x="504.64" y="575.80" width="4.00" height="53.60" fill="#ff0000" stroke="#000" stroke-width="0.8"/>
<line x1="502.74" y1="629.40" x2="502.74" y2="633.90" stroke="#000" stroke-width="1.4"/>
<text x="502.74" y="647.50" font-size="12" text-anchor="middle" fill="#000">8</text>
<line x1="518.22" y1="621.80" x2="518.22" y2="625.00" stroke="#000" stroke-width="1.4"/>
<line x1="516.62" y1="621.80" x2="519.82" y2="621.80" stroke="#000" stroke-width="1.4"/>
<rect x="515.92" y="625.00" width="4.60" height="4.40" fill="#000"/>
<line x1="525.12" y1="584.60" x2="525.12" y2="589.80" stroke="#000" stroke-width="1.4"/>
<line x1="523.52" y1="584.60" x2="526.72" y2="584.60" stroke="#000" stroke-width="1.4"/>
<rect x="523.12" y="589.80" width="4.00" height="39.60" fill="#ff0000" stroke="#000" stroke-width="0.8"/>
<line x1="521.22" y1="629.40" x2="521.22" y2="633.90" stroke="#000" stroke-width="1.4"/>
<text x="521.22" y="647.50" font-size="12" text-anchor="middle" fill="#000">9</text>
<line x1="536.70" y1="626.60" x2="536.70" y2="628.60" stroke="#000" stroke-width="1.4"/>
<line x1="535.10" y1="626.60" x2="538.30" y2="626.60" stroke="#000" stroke-width="1.4"/>
<rect x="534.40" y="628.60" width="4.60" height="0.80" fill="#000"/>
<line x1="543.60" y1="604.80" x2="543.60" y2="608.00" stroke="#000" stroke-width="1.4"/>
<line x1="542.00" y1="604.80" x2="545.20" y2="604.80" stroke="#000" stroke-width="1.4"/>
<rect x="541.60" y="608.00" width="4.00" height="21.40" fill="#ff0000" stroke="#000" stroke-width="0.8"/>
<line x1="539.70" y1="629.40" x2="539.70" y2="633.90" stroke="#000" stroke-width="1.4"/>
<text x="539.70" y="647.50" font-size="12" text-anchor="middle" fill="#000">10</text>
<text x="449.30" y="663.60" font-size="12" text-anchor="middle" fill="#000">Days</text>
<polygon points="404.14,563.70 404.85,565.42 406.71,565.57 405.30,566.78 405.73,568.58 404.14,567.62 402.55,568.58 402.98,566.78 401.57,565.57 403.43,565.42" fill="#000"/>
<polygon points="410.14,563.70 410.85,565.42 412.71,565.57 411.30,566.78 411.73,568.58 410.14,567.62 408.55,568.58 408.98,566.78 407.57,565.57 409.43,565.42" fill="#000"/>
<polygon points="416.14,563.70 416.85,565.42 418.71,565.57 417.30,566.78 417.73,568.58 416.14,567.62 414.55,568.58 414.98,566.78 413.57,565.57 415.43,565.42" fill="#000"/>
<polygon points="422.62,541.60 423.33,543.32 425.19,543.47 423.78,544.68 424.21,546.48 422.62,545.51 421.03,546.48 421.46,544.68 420.05,543.47 421.91,543.32" fill="#000"/>
<polygon points="428.62,541.60 429.33,543.32 431.19,543.47 429.78,544.68 430.21,546.48 428.62,545.51 427.03,546.48 427.46,544.68 426.05,543.47 427.91,543.32" fill="#000"/>
<polygon points="434.62,541.60 435.33,543.32 437.19,543.47 435.78,544.68 436.21,546.48 434.62,545.51 433.03,546.48 433.46,544.68 432.05,543.47 433.91,543.32" fill="#000"/>
<polygon points="444.10,530.30 444.81,532.02 446.67,532.17 445.26,533.38 445.69,535.18 444.10,534.22 442.51,535.18 442.94,533.38 441.53,532.17 443.39,532.02" fill="#000"/>
<polygon points="450.10,530.30 450.81,532.02 452.67,532.17 451.26,533.38 451.69,535.18 450.10,534.22 448.51,535.18 448.94,533.38 447.53,532.17 449.39,532.02" fill="#000"/>
<polygon points="462.58,540.10 463.29,541.82 465.15,541.97 463.74,543.18 464.17,544.98 462.58,544.01 460.99,544.98 461.42,543.18 460.01,541.97 461.87,541.82" fill="#000"/>
<polygon points="468.58,540.10 469.29,541.82 471.15,541.97 469.74,543.18 470.17,544.98 468.58,544.01 466.99,544.98 467.42,543.18 466.01,541.97 467.87,541.82" fill="#000"/>
<polygon points="478.06,532.80 478.77,534.52 480.63,534.67 479.22,535.88 479.65,537.68 478.06,536.72 476.47,537.68 476.90,535.88 475.49,534.67 477.35,534.52" fill="#000"/>
<polygon points="484.06,532.80 484.77,534.52 486.63,534.67 485.22,535.88 485.65,537.68 484.06,536.72 482.47,537.68 482.90,535.88 481.49,534.67 483.35,534.52" fill="#000"/>
<polygon points="490.06,532.80 490.77,534.52 492.63,534.67 491.22,535.88 491.65,537.68 490.06,536.72 488.47,537.68 488.90,535.88 487.49,534.67 489.35,534.52" fill="#000"/>
<polygon points="496.54,562.00 497.25,563.72 499.11,563.87 497.70,565.08 498.13,566.88 496.54,565.92 494.95,566.88 495.38,565.08 493.97,563.87 495.83,563.72" fill="#000"/>
<polygon points="502.54,562.00 503.25,563.72 505.11,563.87 503.70,565.08 504.13,566.88 502.54,565.92 500.95,566.88 501.38,565.08 499.97,563.87 501.83,563.72" fill="#000"/>
<polygon points="508.54,562.00 509.25,563.72 511.11,563.87 509.70,565.08 510.13,566.88 508.54,565.92 506.95,566.88 507.38,565.08 505.97,563.87 507.83,563.72" fill="#000"/>
<polygon points="515.02,575.00 515.73,576.72 517.59,576.87 516.18,578.08 516.61,579.88 515.02,578.92 513.43,579.88 513.86,578.08 512.45,576.87 514.31,576.72" fill="#000"/>
<polygon points="521.02,575.00 521.73,576.72 523.59,576.87 522.18,578.08 522.61,579.88 521.02,578.92 519.43,579.88 519.86,578.08 518.45,576.87 520.31,576.72" fill="#000"/>
<polygon points="527.02,575.00 527.73,576.72 529.59,576.87 528.18,578.08 528.61,579.88 527.02,578.92 525.43,579.88 525.86,578.08 524.45,576.87 526.31,576.72" fill="#000"/>
<polygon points="533.50,595.90 534.21,597.62 536.07,597.77 534.66,598.98 535.09,600.78 533.50,599.82 531.91,600.78 532.34,598.98 530.93,597.77 532.79,597.62" fill="#000"/>
<polygon points="539.50,595.90 540.21,597.62 542.07,597.77 540.66,598.98 541.09,600.78 539.50,599.82 537.91,600.78 538.34,598.98 536.93,597.77 538.79,597.62" fill="#000"/>
<polygon points="545.50,595.90 546.21,597.62 548.07,597.77 546.66,598.98 547.09,600.78 545.50,599.82 543.91,600.78 544.34,598.98 542.93,597.77 544.79,597.62" fill="#000"/>
<rect x="349.00" y="489.40" width="14.80" height="5.40" fill="#000"/>
<rect x="349.40" y="501.30" width="14.00" height="5.00" fill="#ff0000" stroke="#000" stroke-width="0.8"/>
<text x="372.00" y="495.30" font-size="12" text-anchor="start" fill="#000">C57BL/6J</text>
<text x="372.00" y="507.40" font-size="12" text-anchor="start" fill="#000">C11<tspan font-size="8.5" dy="-4.6">−/−</tspan></text>
<text x="75.60" y="689.00" font-size="17" text-anchor="start" font-weight="bold" fill="#000">g</text>
<text x="178.50" y="694.20" font-size="12" text-anchor="middle" fill="#000">2% DSS</text>
<line x1="127.00" y1="697.80" x2="234.30" y2="697.80" stroke="#000" stroke-width="1.4"/>
<text x="154.80" y="713.30" font-size="12" text-anchor="middle" fill="#000">C57BL/6J</text>
<text x="196.50" y="713.30" font-size="12" text-anchor="start" fill="#000">C11<tspan font-size="8.5" dy="-6.5">−/−</tspan></text>
<defs>
<linearGradient id="bg1" x1="0" y1="0" x2="0" y2="1"><stop offset="0" stop-color="#ad9177"/><stop offset="1" stop-color="#ab8f74"/></linearGradient>
<linearGradient id="bg2" x1="0" y1="0" x2="0" y2="1"><stop offset="0" stop-color="#ac927f"/><stop offset="0.5" stop-color="#ab8f79"/><stop offset="1" stop-color="#a98c72"/></linearGradient>
<linearGradient id="rul" x1="0" y1="0" x2="0" y2="1"><stop offset="0" stop-color="#bb9d76"/><stop offset="1" stop-color="#b79972"/></linearGradient>
<linearGradient id="rul2" x1="0" y1="0" x2="0" y2="1"><stop offset="0" stop-color="#bca288"/><stop offset="1" stop-color="#b89e84"/></linearGradient>
<clipPath id="cp1"><rect x="126.6" y="718.0" width="60.9" height="170.5"/></clipPath>
<clipPath id="cp2"><rect x="192.2" y="718.0" width="42.8" height="170.5"/></clipPath>
<linearGradient id="seg1" x1="0" y1="0" x2="0.3" y2="1"><stop offset="0" stop-color="#5a3220"/><stop offset="0.6" stop-color="#6a3420"/><stop offset="1" stop-color="#9a4a2a"/></linearGradient>
<filter id="blur1" x="-20%" y="-20%" width="140%" height="140%"><feGaussianBlur stdDeviation="0.9"/></filter>
<filter id="blur2" x="-50%" y="-50%" width="200%" height="200%"><feGaussianBlur stdDeviation="2.5"/></filter>
</defs>
<rect x="125.80" y="717.20" width="62.50" height="172.10" fill="url(#bg1)" stroke="#2e2a28" stroke-width="1.6"/>
<g clip-path="url(#cp1)">
<rect x="126.60" y="718.00" width="19.40" height="170.50" fill="url(#rul)"/>
<rect x="146.00" y="718.00" width="4.00" height="170.50" fill="url(#rul2)"/>
<line x1="138.00" y1="725.00" x2="145.50" y2="725.00" stroke="#8a7252" stroke-width="1.0"/>
<line x1="141.00" y1="733.60" x2="145.50" y2="733.60" stroke="#9a8262" stroke-width="0.8"/>
<line x1="143.00" y1="727.15" x2="145.50" y2="727.15" stroke="#a89070" stroke-width="0.5"/>
<line x1="143.00" y1="729.30" x2="145.50" y2="729.30" stroke="#a89070" stroke-width="0.5"/>
<line x1="143.00" y1="731.45" x2="145.50" y2="731.45" stroke="#a89070" stroke-width="0.5"/>
<line x1="143.00" y1="735.75" x2="145.50" y2="735.75" stroke="#a89070" stroke-width="0.5"/>
<line x1="143.00" y1="737.90" x2="145.50" y2="737.90" stroke="#a89070" stroke-width="0.5"/>
<line x1="143.00" y1="740.05" x2="145.50" y2="740.05" stroke="#a89070" stroke-width="0.5"/>
<text x="133.2" y="725.00" font-size="7" font-weight="bold" text-anchor="middle" dominant-baseline="middle" transform="rotate(90 133.2 725.00)" fill="#6a4e30">2</text>
<line x1="138.00" y1="742.20" x2="145.50" y2="742.20" stroke="#8a7252" stroke-width="1.0"/>
<line x1="141.00" y1="750.80" x2="145.50" y2="750.80" stroke="#9a8262" stroke-width="0.8"/>
<line x1="143.00" y1="744.35" x2="145.50" y2="744.35" stroke="#a89070" stroke-width="0.5"/>
<line x1="143.00" y1="746.50" x2="145.50" y2="746.50" stroke="#a89070" stroke-width="0.5"/>
<line x1="143.00" y1="748.65" x2="145.50" y2="748.65" stroke="#a89070" stroke-width="0.5"/>
<line x1="143.00" y1="752.95" x2="145.50" y2="752.95" stroke="#a89070" stroke-width="0.5"/>
<line x1="143.00" y1="755.10" x2="145.50" y2="755.10" stroke="#a89070" stroke-width="0.5"/>
<line x1="143.00" y1="757.25" x2="145.50" y2="757.25" stroke="#a89070" stroke-width="0.5"/>
<text x="133.2" y="742.20" font-size="7" font-weight="bold" text-anchor="middle" dominant-baseline="middle" transform="rotate(90 133.2 742.20)" fill="#6a4e30">3</text>
<line x1="138.00" y1="759.40" x2="145.50" y2="759.40" stroke="#8a7252" stroke-width="1.0"/>
<line x1="141.00" y1="768.00" x2="145.50" y2="768.00" stroke="#9a8262" stroke-width="0.8"/>
<line x1="143.00" y1="761.55" x2="145.50" y2="761.55" stroke="#a89070" stroke-width="0.5"/>
<line x1="143.00" y1="763.70" x2="145.50" y2="763.70" stroke="#a89070" stroke-width="0.5"/>
<line x1="143.00" y1="765.85" x2="145.50" y2="765.85" stroke="#a89070" stroke-width="0.5"/>
<line x1="143.00" y1="770.15" x2="145.50" y2="770.15" stroke="#a89070" stroke-width="0.5"/>
<line x1="143.00" y1="772.30" x2="145.50" y2="772.30" stroke="#a89070" stroke-width="0.5"/>
<line x1="143.00" y1="774.45" x2="145.50" y2="774.45" stroke="#a89070" stroke-width="0.5"/>
<text x="133.2" y="759.40" font-size="7" font-weight="bold" text-anchor="middle" dominant-baseline="middle" transform="rotate(90 133.2 759.40)" fill="#6a4e30">4</text>
<line x1="138.00" y1="776.60" x2="145.50" y2="776.60" stroke="#8a7252" stroke-width="1.0"/>
<line x1="141.00" y1="785.20" x2="145.50" y2="785.20" stroke="#9a8262" stroke-width="0.8"/>
<line x1="143.00" y1="778.75" x2="145.50" y2="778.75" stroke="#a89070" stroke-width="0.5"/>
<line x1="143.00" y1="780.90" x2="145.50" y2="780.90" stroke="#a89070" stroke-width="0.5"/>
<line x1="143.00" y1="783.05" x2="145.50" y2="783.05" stroke="#a89070" stroke-width="0.5"/>
<line x1="143.00" y1="787.35" x2="145.50" y2="787.35" stroke="#a89070" stroke-width="0.5"/>
<line x1="143.00" y1="789.50" x2="145.50" y2="789.50" stroke="#a89070" stroke-width="0.5"/>
<line x1="143.00" y1="791.65" x2="145.50" y2="791.65" stroke="#a89070" stroke-width="0.5"/>
<text x="133.2" y="776.60" font-size="7" font-weight="bold" text-anchor="middle" dominant-baseline="middle" transform="rotate(90 133.2 776.60)" fill="#6a4e30">5</text>
<line x1="138.00" y1="793.80" x2="145.50" y2="793.80" stroke="#8a7252" stroke-width="1.0"/>
<line x1="141.00" y1="802.40" x2="145.50" y2="802.40" stroke="#9a8262" stroke-width="0.8"/>
<line x1="143.00" y1="795.95" x2="145.50" y2="795.95" stroke="#a89070" stroke-width="0.5"/>
<line x1="143.00" y1="798.10" x2="145.50" y2="798.10" stroke="#a89070" stroke-width="0.5"/>
<line x1="143.00" y1="800.25" x2="145.50" y2="800.25" stroke="#a89070" stroke-width="0.5"/>
<line x1="143.00" y1="804.55" x2="145.50" y2="804.55" stroke="#a89070" stroke-width="0.5"/>
<line x1="143.00" y1="806.70" x2="145.50" y2="806.70" stroke="#a89070" stroke-width="0.5"/>
<line x1="143.00" y1="808.85" x2="145.50" y2="808.85" stroke="#a89070" stroke-width="0.5"/>
<text x="133.2" y="793.80" font-size="7" font-weight="bold" text-anchor="middle" dominant-baseline="middle" transform="rotate(90 133.2 793.80)" fill="#6a4e30">6</text>
<line x1="138.00" y1="811.00" x2="145.50" y2="811.00" stroke="#8a7252" stroke-width="1.0"/>
<line x1="141.00" y1="819.60" x2="145.50" y2="819.60" stroke="#9a8262" stroke-width="0.8"/>
<line x1="143.00" y1="813.15" x2="145.50" y2="813.15" stroke="#a89070" stroke-width="0.5"/>
<line x1="143.00" y1="815.30" x2="145.50" y2="815.30" stroke="#a89070" stroke-width="0.5"/>
<line x1="143.00" y1="817.45" x2="145.50" y2="817.45" stroke="#a89070" stroke-width="0.5"/>
<line x1="143.00" y1="821.75" x2="145.50" y2="821.75" stroke="#a89070" stroke-width="0.5"/>
<line x1="143.00" y1="823.90" x2="145.50" y2="823.90" stroke="#a89070" stroke-width="0.5"/>
<line x1="143.00" y1="826.05" x2="145.50" y2="826.05" stroke="#a89070" stroke-width="0.5"/>
<text x="133.2" y="811.00" font-size="7" font-weight="bold" text-anchor="middle" dominant-baseline="middle" transform="rotate(90 133.2 811.00)" fill="#6a4e30">7</text>
<line x1="138.00" y1="828.20" x2="145.50" y2="828.20" stroke="#8a7252" stroke-width="1.0"/>
<line x1="141.00" y1="836.80" x2="145.50" y2="836.80" stroke="#9a8262" stroke-width="0.8"/>
<line x1="143.00" y1="830.35" x2="145.50" y2="830.35" stroke="#a89070" stroke-width="0.5"/>
<line x1="143.00" y1="832.50" x2="145.50" y2="832.50" stroke="#a89070" stroke-width="0.5"/>
<line x1="143.00" y1="834.65" x2="145.50" y2="834.65" stroke="#a89070" stroke-width="0.5"/>
<line x1="143.00" y1="838.95" x2="145.50" y2="838.95" stroke="#a89070" stroke-width="0.5"/>
<line x1="143.00" y1="841.10" x2="145.50" y2="841.10" stroke="#a89070" stroke-width="0.5"/>
<line x1="143.00" y1="843.25" x2="145.50" y2="843.25" stroke="#a89070" stroke-width="0.5"/>
<text x="133.2" y="828.20" font-size="7" font-weight="bold" text-anchor="middle" dominant-baseline="middle" transform="rotate(90 133.2 828.20)" fill="#6a4e30">8</text>
<line x1="138.00" y1="845.40" x2="145.50" y2="845.40" stroke="#8a7252" stroke-width="1.0"/>
<line x1="141.00" y1="854.00" x2="145.50" y2="854.00" stroke="#9a8262" stroke-width="0.8"/>
<line x1="143.00" y1="847.55" x2="145.50" y2="847.55" stroke="#a89070" stroke-width="0.5"/>
<line x1="143.00" y1="849.70" x2="145.50" y2="849.70" stroke="#a89070" stroke-width="0.5"/>
<line x1="143.00" y1="851.85" x2="145.50" y2="851.85" stroke="#a89070" stroke-width="0.5"/>
<line x1="143.00" y1="856.15" x2="145.50" y2="856.15" stroke="#a89070" stroke-width="0.5"/>
<line x1="143.00" y1="858.30" x2="145.50" y2="858.30" stroke="#a89070" stroke-width="0.5"/>
<line x1="143.00" y1="860.45" x2="145.50" y2="860.45" stroke="#a89070" stroke-width="0.5"/>
<text x="133.2" y="845.40" font-size="7" font-weight="bold" text-anchor="middle" dominant-baseline="middle" transform="rotate(90 133.2 845.40)" fill="#6a4e30">9</text>
<line x1="138.00" y1="862.60" x2="145.50" y2="862.60" stroke="#8a7252" stroke-width="1.0"/>
<line x1="141.00" y1="871.20" x2="145.50" y2="871.20" stroke="#9a8262" stroke-width="0.8"/>
<line x1="143.00" y1="864.75" x2="145.50" y2="864.75" stroke="#a89070" stroke-width="0.5"/>
<line x1="143.00" y1="866.90" x2="145.50" y2="866.90" stroke="#a89070" stroke-width="0.5"/>
<line x1="143.00" y1="869.05" x2="145.50" y2="869.05" stroke="#a89070" stroke-width="0.5"/>
<line x1="143.00" y1="873.35" x2="145.50" y2="873.35" stroke="#a89070" stroke-width="0.5"/>
<line x1="143.00" y1="875.50" x2="145.50" y2="875.50" stroke="#a89070" stroke-width="0.5"/>
<line x1="143.00" y1="877.65" x2="145.50" y2="877.65" stroke="#a89070" stroke-width="0.5"/>
<text x="133.2" y="862.60" font-size="7" font-weight="bold" text-anchor="middle" dominant-baseline="middle" transform="rotate(90 133.2 862.60)" fill="#6a4e30">10</text>
<line x1="138.00" y1="879.80" x2="145.50" y2="879.80" stroke="#8a7252" stroke-width="1.0"/>
<line x1="141.00" y1="888.40" x2="145.50" y2="888.40" stroke="#9a8262" stroke-width="0.8"/>
<line x1="143.00" y1="881.95" x2="145.50" y2="881.95" stroke="#a89070" stroke-width="0.5"/>
<line x1="143.00" y1="884.10" x2="145.50" y2="884.10" stroke="#a89070" stroke-width="0.5"/>
<line x1="143.00" y1="886.25" x2="145.50" y2="886.25" stroke="#a89070" stroke-width="0.5"/>
<line x1="143.00" y1="890.55" x2="145.50" y2="890.55" stroke="#a89070" stroke-width="0.5"/>
<line x1="143.00" y1="892.70" x2="145.50" y2="892.70" stroke="#a89070" stroke-width="0.5"/>
<line x1="143.00" y1="894.85" x2="145.50" y2="894.85" stroke="#a89070" stroke-width="0.5"/>
<text x="133.2" y="879.80" font-size="7" font-weight="bold" text-anchor="middle" dominant-baseline="middle" transform="rotate(90 133.2 879.80)" fill="#6a4e30">11</text>
<g filter="url(#blur1)">
<path d="M152.5,745 L156.5,745 L156.5,790 L156,812 L156,830 L155.5,858 L156,872 L155.5,886 L152,886 L151.5,872 L152,858 L152,830 L152.5,812 L153,790 Z" fill="#c08a70"/>
<path d="M149.5,737 C149.5,731 153,729 159,728.6 C166,728.6 173,729.5 178,731.5 C181.5,733 183.5,735 182.5,738 C178,738.5 172,738 166,738.2 C161,738.6 158.6,741 158.4,746 L158,756 L152.5,756 C151.5,750 150.2,745 149.8,741 Z" fill="#6c3a22"/>
<path d="M152.5,752 C150,758 149,766 149.6,774 C150,780 151,785 152.5,789 L156.5,789 C157.5,783 157.5,776 157.2,768 C157,762 157.8,757 158.2,752 Z" fill="url(#seg1)"/>
<ellipse cx="154.2" cy="786" rx="2.0" ry="3.5" fill="#c07858"/>
<ellipse cx="154" cy="803.5" rx="3.2" ry="11.5" fill="#48301e"/>
<ellipse cx="154.4" cy="818.5" rx="2.0" ry="3.5" fill="#b87a60"/>
<ellipse cx="154.3" cy="819" rx="1.8" ry="3.2" fill="#b47458"/>
<path d="M152.3,826 C152.5,822.5 157,821.5 158.5,825 C159.5,830 158,838 156.5,842 C155,844.5 152,844 151.2,841 C150.5,836 151.5,830 152.3,826 Z" fill="#3e2a18"/>
<ellipse cx="153.2" cy="864.3" rx="3.1" ry="7.5" fill="#3e2a1a"/>
<path d="M151,871 L156,871 L156.5,880 L154.5,887 L152,887 L151,880 Z" fill="#d0a080"/>
</g>
</g>
<rect x="191.40" y="717.20" width="44.40" height="172.10" fill="url(#bg2)" stroke="#2e2a28" stroke-width="1.6"/>
<ellipse cx="215" cy="741" rx="9" ry="4.5" fill="#c09a50" opacity="0.7" filter="url(#blur2)"/>
<g filter="url(#blur1)">
<path d="M199.5,748 L204.5,748 L205,770 L199,770 Z" fill="#a25c36"/>
<path d="M197.5,768 L206,768 C206.5,785 206.5,800 206.5,810 C207.5,814 206.5,818 203.5,818.5 C201,818.5 200,816 199.5,812 C198,800 197.5,785 198.5,768 Z" fill="#763c1e"/>
<path d="M200,818 L204.5,818 L204,840 L203,855 L201.5,862 L199.5,862 L199.5,850 L200,835 Z" fill="#94522c"/>
<path d="M199.5,850 L203,850 L202,862 L199.5,862 Z" fill="#c47a44"/>
<path d="M194.4,734 C194.4,730 197,727.8 200.2,727.6 C205,726.9 213,726.9 218.3,728 L222,728.3 C225,728.2 228.5,729.5 230.5,733.4 C231,736 230.5,738.4 229.5,740 C228,742 225,742.5 223.5,741.5 C222,740.5 221.5,738.8 219.5,737.5 C216,736.2 212,736.8 208.5,739.5 C206.5,741.5 205.5,745 205,752 L199.5,752 C197.5,748 195.6,743 195,739 Z" fill="#743c1c"/>
<ellipse cx="203.8" cy="814" rx="3.0" ry="3.6" fill="#5e3218"/>
</g>
<text x="313.50" y="688.40" font-size="17" text-anchor="start" font-weight="bold" fill="#000">h</text>
<line x1="372.60" y1="699.50" x2="372.60" y2="812.22" stroke="#000" stroke-width="1.4"/>
<line x1="370.40" y1="812.22" x2="375.80" y2="812.22" stroke="#000" stroke-width="1.4"/>
<line x1="368.60" y1="699.50" x2="372.60" y2="699.50" stroke="#000" stroke-width="1.4"/>
<text x="365.20" y="703.80" font-size="12" text-anchor="end" fill="#000">9</text>
<line x1="368.60" y1="727.68" x2="372.60" y2="727.68" stroke="#000" stroke-width="1.4"/>
<text x="365.20" y="731.98" font-size="12" text-anchor="end" fill="#000">8</text>
<line x1="368.60" y1="755.86" x2="372.60" y2="755.86" stroke="#000" stroke-width="1.4"/>
<text x="365.20" y="760.16" font-size="12" text-anchor="end" fill="#000">7</text>
<line x1="368.60" y1="784.04" x2="372.60" y2="784.04" stroke="#000" stroke-width="1.4"/>
<text x="365.20" y="788.34" font-size="12" text-anchor="end" fill="#000">6</text>
<line x1="368.60" y1="812.22" x2="372.60" y2="812.22" stroke="#000" stroke-width="1.4"/>
<text x="365.20" y="816.52" font-size="12" text-anchor="end" fill="#000">5</text>
<line x1="372.60" y1="822.00" x2="372.60" y2="835.10" stroke="#000" stroke-width="1.4"/>
<line x1="372.60" y1="822.00" x2="375.80" y2="822.00" stroke="#000" stroke-width="1.4"/>
<line x1="368.60" y1="822.00" x2="372.60" y2="822.00" stroke="#000" stroke-width="1.4"/>
<text x="365.20" y="826.30" font-size="12" text-anchor="end" fill="#000">4</text>
<line x1="368.60" y1="835.10" x2="372.60" y2="835.10" stroke="#000" stroke-width="1.4"/>
<text x="365.20" y="839.40" font-size="12" text-anchor="end" fill="#000">0</text>
<line x1="372.60" y1="835.10" x2="470.20" y2="835.10" stroke="#000" stroke-width="1.4"/>
<text x="352.90" y="767.90" font-size="12" text-anchor="middle" transform="rotate(-90 352.90 767.90)" fill="#000">Colon length (cm)</text>
<line x1="397.00" y1="835.10" x2="397.00" y2="839.10" stroke="#000" stroke-width="1.4"/>
<line x1="445.60" y1="835.10" x2="445.60" y2="839.10" stroke="#000" stroke-width="1.4"/>
<text x="399.10" y="849.30" font-size="12" text-anchor="end" transform="rotate(-45 399.10 849.30)" fill="#000">C57BL/6J</text>
<text x="447.70" y="852.60" font-size="12" text-anchor="end" transform="rotate(-45 447.70 852.60)" fill="#000">C11<tspan font-size="8.5" dy="-4.5">−/−</tspan></text>
<line x1="365.40" y1="889.50" x2="431.80" y2="889.50" stroke="#000" stroke-width="1.4"/>
<text x="397.00" y="902.90" font-size="12" text-anchor="middle" fill="#000">2% DSS</text>
<circle cx="388.70" cy="710.50" r="3.0" fill="#000"/>
<circle cx="401.10" cy="707.60" r="3.0" fill="#000"/>
<circle cx="397.00" cy="714.00" r="3.0" fill="#000"/>
<circle cx="405.30" cy="714.00" r="3.0" fill="#000"/>
<circle cx="388.70" cy="727.60" r="3.0" fill="#000"/>
<circle cx="397.00" cy="731.00" r="3.0" fill="#000"/>
<circle cx="397.00" cy="739.20" r="3.0" fill="#000"/>
<circle cx="388.70" cy="742.00" r="3.0" fill="#000"/>
<circle cx="405.30" cy="742.00" r="3.0" fill="#000"/>
<circle cx="397.00" cy="747.80" r="3.0" fill="#000"/>
<circle cx="405.30" cy="758.90" r="3.0" fill="#000"/>
<circle cx="397.00" cy="764.90" r="3.0" fill="#000"/>
<line x1="380.50" y1="732.70" x2="413.60" y2="732.70" stroke="#000" stroke-width="1.5"/>
<polygon points="445.20,731.75 448.20,737.45 442.20,737.45" fill="#ff0000"/>
<polygon points="445.20,739.65 448.20,745.35 442.20,745.35" fill="#ff0000"/>
<polygon points="436.80,751.15 439.80,756.85 433.80,756.85" fill="#ff0000"/>
<polygon points="453.10,751.15 456.10,756.85 450.10,756.85" fill="#ff0000"/>
<polygon points="445.20,756.25 448.20,761.95 442.20,761.95" fill="#ff0000"/>
<polygon points="441.20,759.55 444.20,765.25 438.20,765.25" fill="#ff0000"/>
<polygon points="436.80,762.75 439.80,768.45 433.80,768.45" fill="#ff0000"/>
<polygon points="453.10,762.75 456.10,768.45 450.10,768.45" fill="#ff0000"/>
<polygon points="445.20,765.65 448.20,771.35 442.20,771.35" fill="#ff0000"/>
<polygon points="453.10,776.15 456.10,781.85 450.10,781.85" fill="#ff0000"/>
<polygon points="445.20,782.65 448.20,788.35 442.20,788.35" fill="#ff0000"/>
<line x1="429.60" y1="759.70" x2="461.80" y2="759.70" stroke="#000" stroke-width="1.5"/>
<polyline points="396.60,698.20 396.60,694.40 445.50,694.40 445.50,721.60" fill="none" stroke="#000" stroke-width="1.4" stroke-linejoin="miter" stroke-linecap="butt"/>
<polygon points="416.00,684.80 416.74,686.58 418.66,686.73 417.20,687.99 417.65,689.87 416.00,688.86 414.35,689.87 414.80,687.99 413.34,686.73 415.26,686.58" fill="#000"/>
<polygon points="422.00,684.80 422.74,686.58 424.66,686.73 423.20,687.99 423.65,689.87 422.00,688.86 420.35,689.87 420.80,687.99 419.34,686.73 421.26,686.58" fill="#000"/>
<polygon points="428.00,684.80 428.74,686.58 430.66,686.73 429.20,687.99 429.65,689.87 428.00,688.86 426.35,689.87 426.80,687.99 425.34,686.73 427.26,686.58" fill="#000"/>
</svg>
</body></html>
